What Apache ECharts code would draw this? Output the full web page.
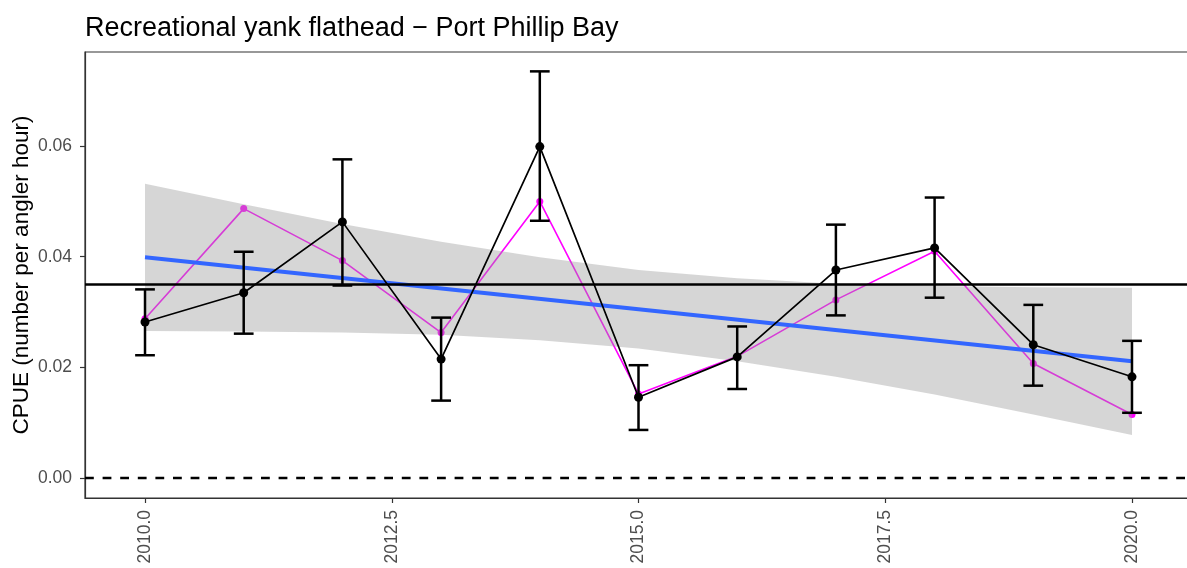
<!DOCTYPE html>
<html>
<head>
<meta charset="utf-8">
<script src="https://cdn.jsdelivr.net/npm/echarts@6/dist/echarts.min.js"></script>
<style>
  html, body { margin: 0; padding: 0; background: #ffffff; overflow: hidden; }
  #chart { width: 1187px; height: 568px; }
</style>
</head>
<body>
<div id="chart"></div>
<script>
// Survey years
const years = [2010, 2011, 2012, 2013, 2014, 2015, 2016, 2017, 2018, 2019, 2020];

// Standardised CPUE with its lower / upper interval
const cpue      = [0.0282, 0.0335, 0.0463, 0.0215, 0.0599, 0.0146, 0.0219, 0.0376, 0.0416, 0.0241, 0.0183];
const cpueLower = [0.0222, 0.0261, 0.0348, 0.0140, 0.0465, 0.0087, 0.0161, 0.0294, 0.0326, 0.0167, 0.0118];
const cpueUpper = [0.0341, 0.0409, 0.0576, 0.0290, 0.0735, 0.0204, 0.0274, 0.0458, 0.0507, 0.0313, 0.0248];

// Nominal CPUE
const nominal = [0.0288, 0.0487, 0.0393, 0.0263, 0.0500, 0.0152, 0.0220, 0.0322, 0.0410, 0.0207, 0.0115];

// Linear trend (end points) and its confidence band at each year
const trendYears = [2010, 2020];
const trendValues = [0.0399, 0.0211];
const bandLower = [0.0266, 0.0265, 0.0263, 0.0259, 0.0249, 0.0234, 0.0211, 0.0183, 0.0151, 0.0115, 0.0078];
const bandUpper = [0.0532, 0.0495, 0.0459, 0.0427, 0.0399, 0.0376, 0.0361, 0.0351, 0.0347, 0.0345, 0.0344];

// Long-term mean reference line
const longTermMean = 0.0351;

// Axis ticks
const xTicks = [2010, 2012.5, 2015, 2017.5, 2020];
const yTicks = [0, 0.02, 0.04, 0.06];

const FONT = "'Liberation Sans', Arial, sans-serif";
const CAP_HALF = 0.1; // half-width of error-bar caps, in years
const X_MIN = 2009.392, X_MAX = 2020.608;

const chart = echarts.init(document.getElementById('chart'), null, { renderer: 'canvas' });

const bandData = years.map((y, i) => [y, bandLower[i], bandUpper[i]]);

chart.setOption({
  animation: false,
  backgroundColor: '#ffffff',
  title: {
    text: 'Recreational yank flathead \u2212 Port Phillip Bay',
    left: 80,
    top: 10,
    textStyle: { fontFamily: FONT, fontSize: 27, fontWeight: 'normal', color: '#000000' }
  },
  grid: {
    left: 85, top: 52, width: 1107, height: 446,
    outerBoundsMode: 'none',
    containLabel: false,
    show: true, borderColor: '#333333', borderWidth: 1.2, backgroundColor: 'transparent'
  },
  xAxis: {
    type: 'value',
    min: X_MIN, max: X_MAX,
    splitLine: { show: false },
    axisLine: { show: true, onZero: false, lineStyle: { color: '#333333', width: 1.2 } },
    axisTick: { show: true, length: 5, customValues: xTicks, lineStyle: { color: '#333333', width: 1.2 } },
    axisLabel: {
      customValues: xTicks, rotate: 90, margin: 12,
      fontFamily: FONT, fontSize: 17.5, color: '#4d4d4d',
      formatter: v => v.toFixed(1)
    }
  },
  yAxis: {
    type: 'value',
    min: -0.0036, max: 0.0770,
    name: 'CPUE (number per angler hour)',
    nameLocation: 'middle',
    nameGap: 52,
    nameMoveOverlap: false,
    nameTextStyle: { fontFamily: FONT, fontSize: 22.5, color: '#000000' },
    splitLine: { show: false },
    axisLine: { show: true, onZero: false, lineStyle: { color: '#333333', width: 1.2 } },
    axisTick: { show: true, length: 5, customValues: yTicks, lineStyle: { color: '#333333', width: 1.2 } },
    axisLabel: {
      customValues: yTicks, margin: 13,
      fontFamily: FONT, fontSize: 17.5, color: '#4d4d4d',
      formatter: v => v.toFixed(2)
    }
  },
  series: [
    {
      name: 'Nominal',
      type: 'line',
      z: 2,
      data: years.map((y, i) => [y, nominal[i]]),
      symbol: 'circle',
      symbolSize: 7,
      itemStyle: { color: '#ff00ff' },
      lineStyle: { color: '#ff00ff', width: 1.6 }
    },
    {
      name: 'Trend band',
      type: 'custom',
      z: 3,
      data: bandData,
      renderItem: function (params, api) {
        if (params.dataIndex !== 0) return null;
        const top = bandData.map(d => api.coord([d[0], d[2]]));
        const bottom = bandData.slice().reverse().map(d => api.coord([d[0], d[1]]));
        return {
          type: 'polygon',
          shape: { points: top.concat(bottom) },
          style: { fill: 'rgba(153,153,153,0.4)', stroke: null }
        };
      }
    },
    {
      name: 'Trend',
      type: 'line',
      z: 4,
      data: trendYears.map((y, i) => [y, trendValues[i]]),
      symbol: 'none',
      lineStyle: { color: '#3366ff', width: 4 }
    },
    {
      name: 'Reference lines',
      type: 'line',
      z: 5,
      data: [],
      markLine: {
        silent: true,
        symbol: 'none',
        precision: 6,
        label: { show: false },
        emphasis: { disabled: true },
        data: [
          { yAxis: 0, lineStyle: { color: '#000000', width: 2.4, type: [8.8, 8.8] } },
          { yAxis: longTermMean, lineStyle: { color: '#000000', width: 2.5, type: 'solid' } }
        ]
      }
    },
    {
      name: 'Interval',
      type: 'custom',
      z: 6,
      data: years.map((y, i) => [y, cpueLower[i], cpueUpper[i]]),
      renderItem: function (params, api) {
        const x = api.value(0), lo = api.value(1), hi = api.value(2);
        const pLo = api.coord([x, lo]);
        const pHi = api.coord([x, hi]);
        const loL = api.coord([x - CAP_HALF, lo]), loR = api.coord([x + CAP_HALF, lo]);
        const hiL = api.coord([x - CAP_HALF, hi]), hiR = api.coord([x + CAP_HALF, hi]);
        const st = { stroke: '#000000', lineWidth: 2.5 };
        return {
          type: 'group',
          children: [
            { type: 'line', shape: { x1: pLo[0], y1: pLo[1], x2: pHi[0], y2: pHi[1] }, style: st },
            { type: 'line', shape: { x1: loL[0], y1: loL[1], x2: loR[0], y2: loR[1] }, style: st },
            { type: 'line', shape: { x1: hiL[0], y1: hiL[1], x2: hiR[0], y2: hiR[1] }, style: st }
          ]
        };
      }
    },
    {
      name: 'Standardised',
      type: 'line',
      z: 7,
      data: years.map((y, i) => [y, cpue[i]]),
      symbol: 'circle',
      symbolSize: 9,
      itemStyle: { color: '#000000' },
      lineStyle: { color: '#000000', width: 1.7 }
    }
  ]
});
</script>
</body>
</html>
